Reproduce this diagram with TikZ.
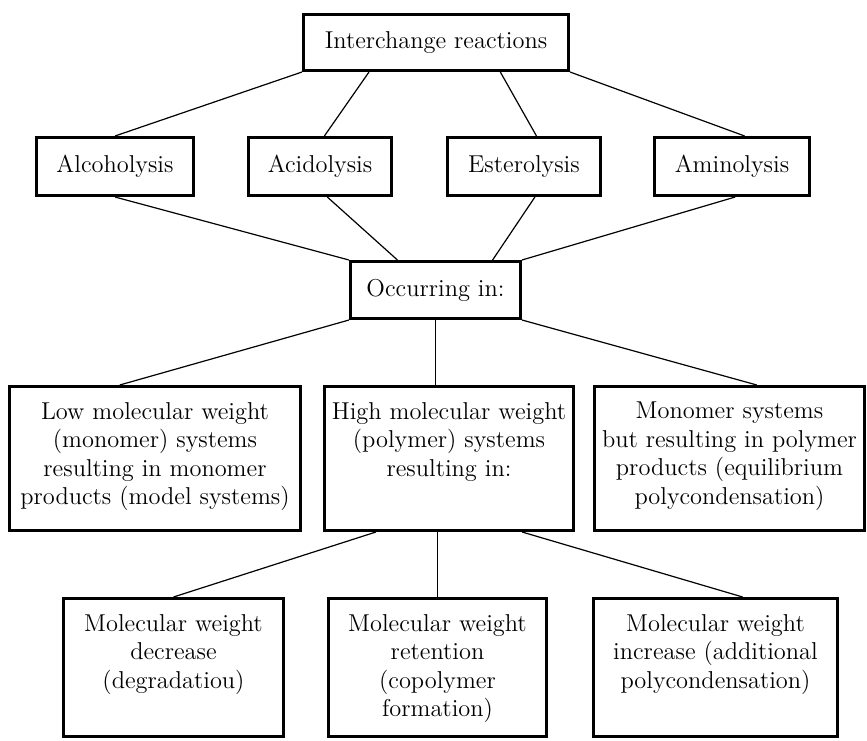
\documentclass[tikz,border=0pt]{standalone}
\usetikzlibrary{calc}
\begin{document}
\begin{tikzpicture}[x=0.5pt,y=-0.5pt,
  every node/.style={font=\fontsize{12.2}{14.3}\selectfont},
  rbox/.style={draw,line width=1.5pt,inner sep=0pt},
  link/.style={line width=0.6pt}]
\def\tbox#1#2#3{\parbox[c][#2][t]{#1}{\centering\vspace*{7.8pt}#3}}

\useasboundingbox (0,0) rectangle (867,740);

% reactions
\node[rbox,minimum width=132.5pt,minimum height=28pt] (inter) at (436,42.5) {Interchange reactions};
\node[rbox,minimum width=78.5pt,minimum height=29pt] (alco) at (115,166.5) {Alcoholysis};
\node[rbox,minimum width=71.5pt,minimum height=29pt] (acid) at (320,166.5) {Acidolysis};
\node[rbox,minimum width=76.5pt,minimum height=29pt] (ester) at (524,166.5) {Esterolysis};
\node[rbox,minimum width=77.5pt,minimum height=29pt] (amino) at (732,166.5) {Aminolysis};

\node[rbox,minimum width=85pt,minimum height=28.5pt] (occ) at (435.5,290) {Occurring in:};

% systems
\node[rbox] (low) at (155,458.5) {\tbox{145.5pt}{72pt}{Low molecular weight\\(monomer) systems\\resulting in monomer\\products (model systems)}};
\node[rbox] (high) at (449,458.5) {\tbox{124.5pt}{72pt}{High molecular weight\\(polymer) systems\\resulting in:}};
\node[rbox] (mono) at (729.5,458.5) {\tbox{135pt}{72pt}{Monomer systems\\but resulting in polymer\\products (equilibrium\\polycondensation)}};

% results
\node[rbox] (dec) at (173.5,667.5) {\tbox{110pt}{69pt}{Molecular weight\\decrease\\(degradatiou)}};
\node[rbox] (keep) at (437.5,667.5) {\tbox{109pt}{69pt}{Molecular weight\\retention\\(copolymer\\formation)}};
\node[rbox] (inc) at (715.5,667.5) {\tbox{122pt}{69pt}{Molecular weight\\increase (additional\\polycondensation)}};

\draw[link] (inter.south west) -- (alco.north);
\draw[link] ($(inter.south west)!.25!(inter.south east)$) -- ($(acid.north west)!.53!(acid.north east)$);
\draw[link] ($(inter.south west)!.74!(inter.south east)$) -- ($(ester.north west)!.58!(ester.north east)$);
\draw[link] (inter.south east) -- ($(amino.north west)!.58!(amino.north east)$);

\draw[link] (alco.south) -- (occ.north west);
\draw[link] ($(acid.south west)!.55!(acid.south east)$) -- ($(occ.north west)!.28!(occ.north east)$);
\draw[link] ($(ester.south west)!.57!(ester.south east)$) -- ($(occ.north west)!.83!(occ.north east)$);
\draw[link] ($(amino.south west)!.52!(amino.south east)$) -- (occ.north east);

\draw[link] (occ.south west) -- ($(low.north west)!.38!(low.north east)$);
\draw[link] (occ.south) -- (occ.south |- high.north);
\draw[link] (occ.south east) -- ($(mono.north west)!.6!(mono.north east)$);

\draw[link] ($(high.south west)!.21!(high.south east)$) -- (dec.north);
\draw[link] (keep.north |- high.south) -- (keep.north);
\draw[link] ($(high.south west)!.79!(high.south east)$) -- ($(inc.north west)!.61!(inc.north east)$);
\end{tikzpicture}
\end{document}
